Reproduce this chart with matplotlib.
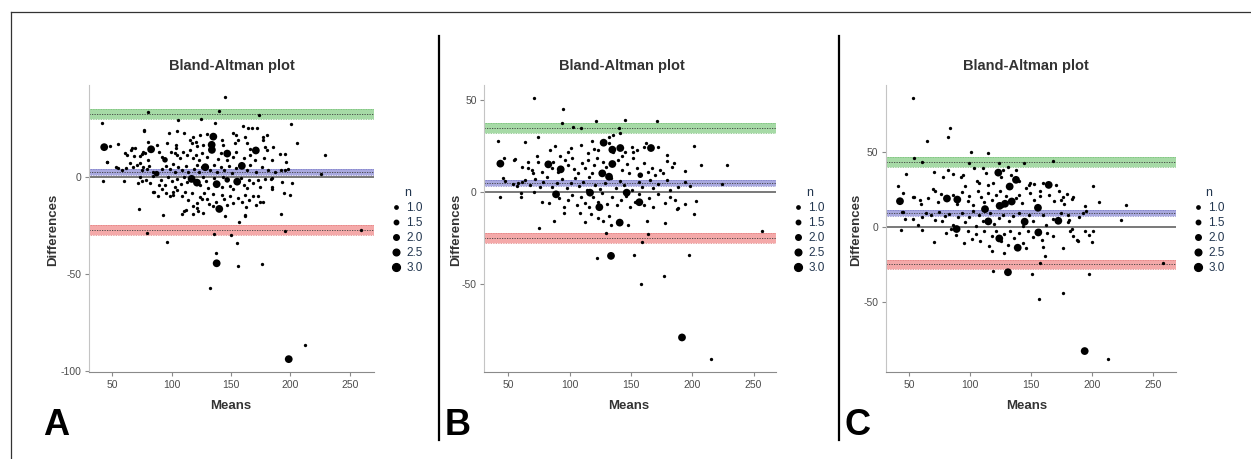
import numpy as np
import matplotlib.pyplot as plt
from matplotlib.lines import Line2D

plt.rcParams['font.family'] = ['Liberation Sans', 'DejaVu Sans']
plt.rcParams['axes.unicode_minus'] = False

NARROW = ['Liberation Sans Narrow', 'DejaVu Sans Condensed', 'Liberation Sans']

# ---- panel A : (mean, difference) of single observations
a_single = np.array([
    (145, 40.6), (80, 33), (140, 33.7), (174, 31.7), (41.3, 27.4), (200.7, 26.9), (124.8, 29.8),
    (105.7, 28.8), (136.6, 27.7), (76.9, 24), (160.4, 26), (164, 25), (167.4, 24.8), (171.6, 24.7),
    (205.7, 17.3), (229.6, 11), (225.6, 1.4), (259.8, -27.2), (195.4, -27.9), (191.5, 11.6),
    (195.4, 11.6), (196.3, 7.4), (195.4, 3.4), (201.3, -3.1), (194.8, -8.6), (199.9, -9.4),
    (192.6, -19.2), (185.6, 15.4), (180.5, 21.4), (177.3, 20.2), (184, -1.5), (42.7, -2.2),
    (48.3, 15.9), (55.3, 16.8), (45.8, 7.4), (54.5, 4.3), (60.1, -2.2), (73, -16.4), (92.6, -19.7),
    (96.5, -33.4), (79.1, -29.1), (135.4, -29.5), (149.7, -30.1), (154.8, -34.1), (137.1, -39),
    (155.9, -45.9), (176.3, -44.9), (132.4, -57.2), (212.2, -86.3), (156.7, -23.5), (162, -20),
    (162.3, -15.4), (174.6, -13), (109.1, -19.2), (110.8, -17.8), (117.8, -14.9), (122.5, -17.5),
    (135.2, -14.9), (125.4, -11.6), (101.3, -9.2), (85.3, -7.7), (89.8, -4.3), (71.6, -3.1),
    (75.5, -2.2), (62.3, 11.3), (66.8, 14.7), (69, 14.9), (73.5, 10.6), (76.3, 12.8),
    (77.2, 23.6), (98.2, 22.6), (104.9, 23.6), (110.5, 22.6), (118.3, 20.5), (123.9, 21.2),
    (129.5, 21.7), (151.9, 22.6), (153.9, 21.4), (177.2, 18.8), (161.5, 20.2), (80.5, 18),
    (87.5, 16.3), (95.9, 17.1), (103.8, 16.3), (103.8, 14.6), (115.5, 18.8), (116.9, 17.1),
    (120.6, 18), (121.7, 15.7), (126.7, 16.3), (142.1, 18.8), (143.5, 16.3), (153.4, 17.1),
    (156.1, 18.8), (163.2, 17.1), (166, 14), (178.6, 15.4),
    (60.9, 12), (66, 13.7), (68.5, 10.6), (74.9, 11.6), (77.7, 12.3), (80.5, 8.6), (89.8, 12.8),
    (91.7, 10.3), (99.3, 12.8), (102.9, 12), (104.9, 11.1), (107.1, 9.4), (109.9, 12.8),
    (112.7, 11.1), (115.5, 13.7), (118.3, 9.4), (120.6, 11.1), (123.4, 8.6), (125.3, 12),
    (129.5, 10.3), (139.3, 8.9), (141.3, 12), (146.3, 8.6), (151.9, 10.3), (154.7, 12.8),
    (160.9, 9.4), (166, 11.1), (170.2, 8.6), (177.7, 9.4), (180, 13.7), (185, 8.6),
    (45.5, 7.7), (53.3, 4.8), (58.1, 3.4), (61.8, 4.3), (65.1, 6.9), (67.4, 5.1), (70.7, 6),
    (73.5, 6.9), (74.9, 3.4), (76.3, 4.8), (79.1, 3.8), (81.4, 5.5), (84.7, 2.6), (91.7, 3.8),
    (95.4, 5.5), (98.7, 3.8), (101.5, 6.5), (102.9, 2.6), (105.7, 4.8), (108.5, 3.4), (112.2, 5.5),
    (114.1, 2.1), (118.9, 3.8), (121.1, 6), (123.4, 2.6), (125.3, 5.1), (132.3, 3.4), (135.7, 6),
    (137.9, 2.6), (141.3, 5.1), (144.1, 3.4), (148.6, 5.5), (150.5, 1.7), (154.7, 4.3),
    (163.2, 3.4), (166, 6), (171.5, 2.6), (175.8, 5.1), (181.4, 3.4), (187, 2.6), (192.6, 3.4),
    (198.2, 3.8),
    (73.5, -0.3), (78.6, -1.7), (81.9, -3.4), (84.7, 0.4), (90.9, -1.7), (94.5, -4.3), (97.3, -0.3),
    (100.1, -2.5), (102.9, -5.1), (104.9, -1.3), (107.7, -3.7), (110.5, -0.3), (112.7, -3),
    (123.9, -4.3), (126.2, -0.3), (129, -2.5), (130.9, -6), (135.7, -0.8), (142.1, -5.1),
    (143.5, -0.3), (149.1, -4.8), (151.9, -6.5), (158.1, -0.8), (160.9, -4.3), (163.2, -6),
    (165.4, -1.7), (168.8, -3.4), (173, -1.7), (174.9, -5.1), (178.6, -1.3), (184.2, -0.8),
    (185, -5.1), (193.4, -3),
    (84.7, -7.7), (88.9, -10.2), (91.7, -6.5), (95.4, -8.5), (98.7, -10.2), (101, -7.7),
    (104.9, -6.8), (108.5, -9.9), (111.3, -7.7), (114.1, -11.9), (116.9, -8.5), (121.1, -13.7),
    (123.9, -10.6), (127.3, -8.5), (129.5, -11.6), (131.8, -14), (135.1, -8.9), (137.4, -12.8),
    (142.1, -9.4), (144.1, -11.6), (146.3, -14.5), (149.1, -10.2), (151.9, -13.7), (156.1, -11.1),
    (159, -12.8), (161.8, -9.4), (165.4, -11.9), (168.8, -10.2), (173, -9.9), (177.2, -12.8),
    (185, -6.5), (112.2, -17.1), (118.3, -19.1), (121.1, -16.2), (126.7, -18.8), (144.9, -20.2),
    (161.8, -19.6), (171.5, -14.5),
])
# (mean, difference, n) of repeated observations
a_multi = np.array([
    (43.3, 15.1, 3), (82.8, 14, 3), (94.5, 8.6, 2), (87.5, 1.5, 2), (135.2, 20.5, 3),
    (133.8, 16.3, 3), (134, 13.7, 3), (128.4, 4.8, 3), (146.9, 11.8, 3), (171, 13.4, 3),
    (159.2, 5.5, 3), (116.9, -1.2, 3), (121.4, -3.1, 3), (138, -3.9, 3), (146.9, -1.7, 2),
    (155.3, -2.6, 3), (140.2, -16.6, 3), (138, -44.5, 3), (198.7, -93.7, 3),
])
a_lines = [32.0, 2.4, -27.3]                      # upper LoA, bias, lower LoA
a_ci = [(29.6, 34.7), (0.7, 4.1), (-30.0, -24.9)]

# ---- panel B
b_single = np.array([
    (71.2, 51.3), (94.8, 45.1), (93.5, 37.7), (102.4, 35.3), (109, 35), (121.2, 38.6), (145.4, 39.1),
    (170.9, 38.8), (140.2, 34.6), (141, 32.2), (135.3, 31.2), (41.3, 27.7), (63.9, 27), (74.5, 29.7),
    (109.5, 25.5), (201.6, 25.2), (206.8, 14.5), (228, 14.9), (224.5, 4.2), (257.1, -21),
    (198.4, 3.3), (194.3, 11.4), (194.3, 5.6), (202.7, -4.9), (194.3, -6.7), (201.6, -12.1),
    (187.2, -9.1), (178, -16.7), (197.4, -34.1), (176.9, -45.5), (158.2, -50.2), (152.2, -34.1),
    (122.6, -36.2), (129.3, -22.1), (159, -27.4), (163.9, -22.8), (214.9, -90.8), (74.7, -19.6),
    (87.5, -15.6), (43.5, -2.5), (45.4, 7.8), (47.3, 6.2), (54.9, 17.4), (53.8, 4.5), (56.8, 3.3),
    (60, -0.7), (60, -2.9), (65.8, 12.9), (70.4, 10.1), (73.6, 19.6), (92.1, 19.6), (77.4, -5.3),
    (83.4, -5.8), (95.4, -11.6),
    (84, 22.8), (88.1, 25), (98.9, 21.9), (101.1, 23.7), (115.2, 21), (118.5, 27.9), (120.1, 23.2),
    (123.4, 22.8), (132.1, 29.7), (132.1, 26.8), (135.6, 21.9), (142.4, 19.5), (145.1, 21.9),
    (150.6, 24.6), (151.9, 21.9), (154.9, 22.8), (160.9, 24.6), (162.5, 26.4), (171.8, 24.6),
    (179.1, 20.1), (185.3, 15.9),
    (46.8, 18.3), (55.5, 17.7), (61.4, 13.4), (65.8, 16.5), (69, 11.9), (74.5, 16.5), (77.7, 11),
    (85.3, 12.8), (86.7, 16.5), (90.2, 11), (96.2, 17.4), (98.9, 14.6), (102.2, 18.3), (103.8, 12.3),
    (106.5, 10.1), (109.8, 15.5), (112.5, 12.8), (115.2, 17.4), (118, 10.5), (120.1, 14.6),
    (122, 18.3), (124.8, 11), (127.5, 16.5), (129.4, 13.4), (139.7, 17.4), (142.4, 11.9),
    (146.5, 15.2), (148.4, 10.1), (151.9, 18.3), (154.6, 12.8), (160.9, 15.5), (163.6, 11),
    (166.9, 12.8), (169.6, 9.2), (173.7, 11.9), (176.4, 10.1), (179.1, 17), (183.2, 13.4),
    (58.2, 5), (60.9, 5.6), (63.6, 6.5), (67.7, 3.8), (71.8, 6.8), (75.8, 2.5), (78.6, 5.6),
    (81.3, 7.9), (85.3, 2.9), (89.4, 5), (94, 6.8), (97.6, 2), (101.1, 4.7), (104.4, 7.4),
    (107.6, 3.2), (111.2, 5.6), (113.9, 1), (115.8, 7.9), (120.7, 3.8), (124.8, 1.4), (128.8, 4.7),
    (133.7, 7.4), (137.5, 2), (141.1, 6.1), (144.6, 3.8), (150.6, 1), (156.5, 5.6), (158.7, 2.9),
    (165.5, 6.5), (168.2, 2), (172.3, 4.3), (179.1, 6.5), (181.8, 1), (188.6, 2.5),
    (71.2, 0.1), (88.1, -1.1), (91.3, -3.5), (95.7, -8), (98.9, -4.4), (102.2, -1.7), (105.7, -7.1),
    (109.3, -2.9), (112.5, -5.8), (115.8, -8.4), (119.3, -2.6), (122.8, -5.3), (126.7, -0.8),
    (130.2, -6.6), (134.3, -2.9), (138.3, -7.1), (141.9, -4.4), (145.7, -2.2), (149.2, -8.4),
    (153.3, -5.3), (156.5, -1.1), (160.9, -7.1), (164.7, -3.5), (168.2, -8), (172.3, -1.1),
    (177.7, -5.8), (181.8, -2.6), (185.9, -4.4), (188.1, -8.9),
    (108.4, -11.6), (112.5, -16.2), (117.4, -12), (123.4, -14.3), (127.5, -15.6), (132.1, -13.1),
    (133.7, -18), (147.3, -18), (162.8, -15.6),
])
b_multi = np.array([
    (43.5, 15.4, 3), (82.6, 15, 3), (92.7, 12.3, 3), (88.9, -1.3, 3), (127.7, 26.8, 3),
    (134.8, 23, 3), (141.3, 23.9, 3), (166.3, 23.9, 3), (134.8, 15.2, 3), (126.6, 10.1, 3),
    (132.1, 8.3, 3), (157.6, 9.1, 2), (116.6, -0.4, 3), (146.5, -0.4, 3), (156.8, -5.6, 3),
    (124.2, -8.3, 3), (140.8, -16.7, 3), (133.7, -34.8, 3), (191.6, -79.2, 3),
])
b_lines = [35.0, 5.1, -25.0]
b_ci = [(32.3, 37.5), (3.3, 6.7), (-27.9, -22.3)]

# ---- panel C
c_single = np.array([
    (53.6, 86.4), (83.6, 66.4), (81.7, 60.2), (65, 57.8), (100.8, 50.2), (115, 49.3), (54.1, 46.2),
    (60.7, 43.6), (98.9, 42.7), (124, 43.1), (144, 42.7), (168.3, 44), (47.5, 35.6), (41.3, 27.6),
    (70.5, 36.7), (200.5, 27.6), (205.7, 17.1), (227.9, 14.9), (223.5, 4.9), (258.5, -23.8),
    (201.1, -2.4), (200, -10.2), (197.5, -5.1), (194.3, 13.8), (192.9, 9.1), (197.8, -31.1),
    (176.2, -43.8), (156.8, -47.8), (151.1, -31.3), (119.1, -29.1), (157.1, -24), (161.5, -19.1),
    (213.4, -88), (176.5, -14.2), (70.2, -10), (94.8, -10.9), (43.2, -2.2), (60.4, -2.2),
    (46.9, 5.3), (53.3, 5.3), (54.4, 20), (58.7, 17.8), (59.8, 15.6), (45.4, 10.2), (187.7, -8.9),
    (183.6, -1.3), (180, 3.1), (180.6, 7.8), (183.6, 18.7), (179.5, 22), (176.2, 20),
    (78.1, 33.8), (81.6, 38.2), (85.7, 35.3), (92.6, 33.8), (94.5, 34.9), (96.1, 27.6), (103.5, 39.3),
    (105.4, 30.9), (107.6, 29.3), (110.3, 39.3), (113.1, 36), (114.4, 28.2), (118.5, 29.3),
    (125.4, 33.8), (126.7, 38.2), (130.8, 40.5), (133.6, 34.9), (137.7, 38.2), (140.4, 30.5),
    (148, 28.2), (149.1, 29.3), (152.7, 28.7), (157.3, 24.2), (159.5, 29.3), (170.4, 28.2),
    (173.2, 24.2),
    (44.8, 22.7), (53.5, 19.8), (65.3, 19.3), (69.9, 25.6), (71.5, 24.2), (73.5, 16.7), (76.2, 22),
    (85.7, 21.6), (89, 15.3), (93.4, 23.3), (98, 17.6), (99.4, 20.5), (102.7, 14.9), (106.2, 23.8),
    (109, 19.8), (111.7, 17.1), (114.4, 22.7), (118, 18.2), (121.3, 21.6), (124.5, 24.2),
    (126.2, 13.8), (129.5, 20.5), (137.7, 19.3), (140.4, 21.6), (142.6, 16), (145.9, 26),
    (149.1, 22.7), (152.7, 18.2), (157.3, 20.5), (165, 21.6), (169.1, 17.6), (174.5, 18.2),
    (177.3, 15.3), (184.1, 19.8),
    (44.2, 10), (57.1, 1.6), (60.6, 6.5), (63.9, 9.3), (68, 7.8), (71.5, 4.9), (74.8, 10), (77, 3.8),
    (79.7, 7.1), (83, 8.7), (85.7, 1.6), (89.8, 6.5), (93.4, 9.3), (96.1, 3.3), (99.4, 6.5),
    (102.7, 10.5), (104.9, 0.5), (107.6, 8.2), (110.9, 4.2), (116.3, 9.3), (119.9, 2), (124, 6),
    (127.3, 8.2), (131.6, 3.8), (135.5, 7.1), (139.8, 9.3), (143.7, 0.5), (148, 7.8), (151.9, 4.2),
    (159.5, 8.2), (162.3, 1.6), (167.7, 5.6), (174.5, 9.3), (180.8, 4.9), (189.6, 6.5), (195, 10.5),
    (80.3, -4), (84.4, -1.1), (88.5, -5.5), (98, -2.9), (101.6, -7.8), (104.9, -4.7), (108.1, -9.5),
    (111.7, -2.4), (115.8, -12.9), (118, -6.2), (121.3, -2.9), (125.4, -9.1), (128.1, -4.7),
    (130.8, -11.8), (132.7, -2.4), (136.3, -7.3), (140.4, -4), (143.1, -10.6), (147.2, -2.9),
    (151.3, -6.9), (156.2, -1.8), (159, -8.4), (162.8, -4), (167.7, -6.2), (181.9, -2.9),
    (184.1, -6.2), (188.2, -9.1), (194.5, -2.4), (118, -16), (128, -17), (146, -14), (160, -13),
])
c_multi = np.array([
    (42.6, 17.3, 3), (81.1, 19.1, 3), (89.6, 18.4, 3), (89, -1.3, 3), (123.2, 36.4, 3),
    (132.5, 27.1, 3), (137.7, 31.6, 3), (164.5, 28.2, 3), (112.3, 12, 3), (124.3, 14.2, 3),
    (128.7, 15.6, 3), (134.2, 17.1, 3), (115, 3.8, 3), (144.8, 3.6, 3), (155.7, 12.9, 3),
    (172.4, 4.2, 3), (156, -3.6, 3), (124, -7.6, 3), (139.1, -13.8, 3), (131.1, -30.2, 3),
    (194, -82.9, 3),
])
c_lines = [43.3, 9.3, -25.0]
c_ci = [(40.0, 46.7), (7.3, 11.2), (-28.0, -21.8)]

legend_n = [1.0, 1.5, 2.0, 2.5, 3.0]
x_ticks = [50, 100, 150, 200, 250]


def dot(n):
    # marker diameter in points for a count n
    return 2.4 + (np.asarray(n) - 1) * 1.6


fills = ['#a6daa6', '#a9a9df', '#f4a9a9']
edges = ['#74be74', '#7a7ac6', '#e27a7a']

W, H = 1251, 459
fig = plt.figure(figsize=(W / 100, H / 100), dpi=100)


def panel(left, right, single, multi, lines, ci, xlim, ylim, yticks,
          title_x, means_x, diff_x, letter, letter_x):
    ax = fig.add_axes([left / W, 1 - 372 / H, (right - left) / W, (372 - 85) / H])
    for (lo, hi), fc, ec in zip(ci, fills, edges):
        ax.axhspan(lo, hi, color=fc, lw=0, zorder=1)
        ax.axhline(lo, color=ec, ls=(0, (1, 1)), lw=0.6, zorder=1.5)
        ax.axhline(hi, color=ec, ls=(0, (1, 1)), lw=0.6, zorder=1.5)
    for v in lines:
        ax.axhline(v, color='#3c3c3c', ls=(0, (1.5, 1.5)), lw=0.6, zorder=2)
    ax.axhline(0, color='#555555', lw=1.1, zorder=2)
    ax.scatter(single[:, 0], single[:, 1], s=dot(1) ** 2, color='black', lw=0, zorder=3)
    ax.scatter(multi[:, 0], multi[:, 1], s=dot(multi[:, 2]) ** 2, color='black', lw=0, zorder=3)
    ax.set_xlim(*xlim)
    ax.set_ylim(*ylim)
    ax.set_xticks(x_ticks)
    ax.set_yticks(yticks)
    for s in ['top', 'right']:
        ax.spines[s].set_visible(False)
    ax.spines['left'].set_color('#c4c4c4')
    ax.spines['bottom'].set_color('#8a8a8a')
    ax.tick_params(length=3, width=0.8, color='#8a8a8a', labelsize=7.5,
                   labelcolor='#4d4d4d', pad=2.5)
    for lab in ax.get_xticklabels() + ax.get_yticklabels():
        lab.set_family(NARROW)
        lab.set_stretch('condensed')

    handles = [Line2D([], [], marker='o', ls='', color='black', markersize=dot(n))
               for n in legend_n]
    leg = ax.legend(handles, [f'{n:.1f}' for n in legend_n], title='n',
                    loc='upper left', bbox_to_anchor=(1.045, 0.66), frameon=False,
                    fontsize=8.5, title_fontsize=9, handlelength=0.8,
                    handletextpad=0.45, labelspacing=0.25, borderaxespad=0,
                    alignment='center')
    for t in leg.get_texts():
        t.set_color('#22364f')
    leg.get_title().set_color('#22364f')

    fig.text(title_x / W, 1 - 66 / H, 'Bland-Altman plot', ha='center', va='center',
             fontsize=10.5, fontweight='bold', color='#333333')
    fig.text(means_x / W, 1 - 406 / H, 'Means', ha='center', va='center',
             fontsize=9.5, fontweight='bold', color='#333333')
    fig.text(diff_x / W, 1 - 230 / H, 'Differences', ha='center', va='center',
             rotation=90, fontsize=9.5, fontweight='bold', color='#333333')
    fig.text(letter_x / W, 1 - 435 / H, letter, ha='left', va='baseline',
             fontsize=26, fontweight='bold', color='black', family=NARROW,
             fontstretch='condensed')
    return ax


panel(89, 374, a_single, a_multi, a_lines, a_ci, (30.5, 270.5), (-100.3, 47),
      [-100, -50, 0], 231.5, 230.7, 53, 'A', 43)
panel(484.3, 775.7, b_single, b_multi, b_lines, b_ci, (30.4, 268), (-98, 58.2),
      [-50, 0, 50], 622, 629, 456, 'B', 445)
panel(885.7, 1175.7, c_single, c_multi, c_lines, c_ci, (30.9, 268.6), (-96.9, 95),
      [-50, 0, 50], 1025.5, 1026.7, 856, 'C', 845)

# outer frame and separators
fig.add_artist(Line2D([11 / W, 1], [1 - 12 / H, 1 - 12 / H], color='#333333', lw=0.9))
fig.add_artist(Line2D([11 / W, 11 / W], [0, 1 - 12 / H], color='#333333', lw=0.9))
for xs in [439, 839]:
    fig.add_artist(Line2D([xs / W, xs / W], [1 - 36 / H, 1 - 440 / H], color='black', lw=1.6))

fig.savefig('out.png', dpi=100)
